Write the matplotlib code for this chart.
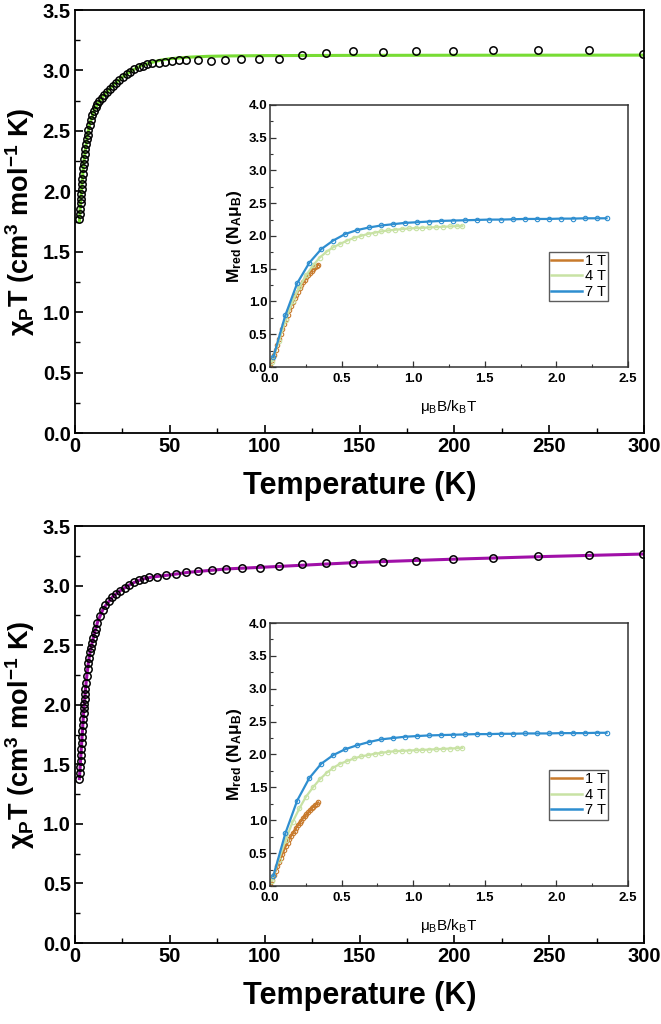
import matplotlib
matplotlib.use('Agg')
import matplotlib.pyplot as plt
from matplotlib.lines import Line2D
from matplotlib.ticker import MultipleLocator

plt.rcParams['font.family'] = ['Liberation Sans', 'DejaVu Sans']
plt.rcParams['font.weight'] = 'bold'
plt.rcParams['axes.labelweight'] = 'bold'
plt.rcParams['mathtext.fontset'] = 'custom'
plt.rcParams['mathtext.rm'] = 'Liberation Sans'
plt.rcParams['mathtext.bf'] = 'Liberation Sans:bold'
plt.rcParams['mathtext.default'] = 'regular'

# ---- chi_P T vs T, upper compound ----
T_top = [2.3, 2.5, 2.7, 2.9, 3.1, 3.3, 3.5, 3.7, 3.9, 4.1, 4.3, 4.6, 4.9, 5.2, 5.5,
         5.8, 6.2, 6.6, 7.1, 7.7, 8.3, 9.0, 9.9, 10.8, 11.8, 12.9, 14.0, 15.3, 16.8,
         18.3, 19.9, 21.5, 23.3, 25.2, 27.2, 29.2, 31.3, 33.5, 35.8, 38.2, 40.8, 44.1,
         47.6, 51.1, 55.0, 58.5, 64.9, 71.5, 79.2, 87.3, 97.2, 107.7, 119.5, 132.4,
         146.7, 162.5, 179.8, 199.4, 220.5, 244.2, 271.1, 299.6]
chi_top = [1.77, 1.81, 1.855, 1.90, 1.94, 1.98, 2.02, 2.06, 2.10, 2.145, 2.19, 2.23,
           2.27, 2.31, 2.35, 2.39, 2.43, 2.47, 2.51, 2.55, 2.59, 2.63, 2.665, 2.695,
           2.72, 2.745, 2.77, 2.795, 2.82, 2.845, 2.87, 2.895, 2.92, 2.945, 2.97, 2.99,
           3.01, 3.03, 3.04, 3.05, 3.06, 3.065, 3.07, 3.08, 3.083, 3.088, 3.088, 3.077,
           3.088, 3.091, 3.096, 3.096, 3.124, 3.143, 3.16, 3.15, 3.16, 3.157, 3.173,
           3.173, 3.173, 3.138]
T_fit_top = [2.3, 2.6, 3.0, 3.5, 4.0, 4.5, 5, 6, 7, 8, 10, 12, 15, 20, 25, 30, 35, 40,
             45, 50, 60, 70, 80, 100, 150, 200, 300]
chi_fit_top = [1.75, 1.84, 1.93, 2.03, 2.13, 2.22, 2.29, 2.41, 2.50, 2.57, 2.665, 2.725,
               2.79, 2.875, 2.945, 3.0, 3.04, 3.065, 3.085, 3.097, 3.11, 3.117, 3.12,
               3.123, 3.125, 3.126, 3.127]

# ---- chi_P T vs T, lower compound ----
T_bot = [2.3, 2.5, 2.7, 2.9, 3.1, 3.3, 3.5, 3.7, 3.9, 4.1, 4.3, 4.5, 4.7, 4.9, 5.1,
         5.3, 5.5, 5.8, 6.2, 6.6, 7.0, 7.4, 7.9, 8.4, 9.0, 9.6, 10.3, 11.0, 11.8, 13.2,
         14.6, 16.0, 17.8, 19.5, 21.6, 23.7, 26.2, 28.7, 31.1, 33.6, 36.4, 39.2, 43.1,
         47.8, 53.1, 58.7, 65.1, 72.1, 79.6, 87.9, 97.5, 107.7, 119.5, 132.3, 146.7,
         162.5, 179.8, 199.4, 220.5, 244.2, 271.1, 299.6]
chi_bot = [1.38, 1.43, 1.48, 1.53, 1.58, 1.63, 1.68, 1.73, 1.78, 1.83, 1.88, 1.93,
           1.97, 2.01, 2.05, 2.09, 2.13, 2.18, 2.24, 2.30, 2.35, 2.395, 2.44, 2.48,
           2.52, 2.56, 2.60, 2.635, 2.69, 2.748, 2.796, 2.838, 2.874, 2.903, 2.93,
           2.958, 2.983, 3.006, 3.028, 3.045, 3.059, 3.07, 3.076, 3.087, 3.095, 3.11,
           3.126, 3.135, 3.14, 3.146, 3.151, 3.165, 3.179, 3.188, 3.193, 3.201, 3.21,
           3.221, 3.235, 3.246, 3.255, 3.265]
T_fit_bot = [2.3, 2.5, 3.0, 3.5, 4.0, 4.5, 5.0, 5.5, 6.0, 7.0, 8.0, 9.0, 10.0, 12.0,
             15.0, 20.0, 25.0, 30.0, 35.0, 40.0, 50.0, 60.0, 80.0, 100.0, 150.0, 200.0,
             250.0, 300.0]
chi_fit_bot = [1.38, 1.43, 1.555, 1.68, 1.805, 1.93, 2.03, 2.13, 2.21, 2.35, 2.45, 2.52,
               2.585, 2.70, 2.81, 2.91, 2.97, 3.018, 3.052, 3.07, 3.09, 3.112, 3.14,
               3.155, 3.195, 3.222, 3.245, 3.265]

# ---- reduced magnetisation (insets) ----
x_7T = [0.023, 0.107, 0.19, 0.274, 0.358, 0.441, 0.525, 0.608, 0.692, 0.776, 0.859,
        0.943, 1.026, 1.110, 1.194, 1.277, 1.361, 1.444, 1.528, 1.612, 1.695, 1.779,
        1.862, 1.946, 2.030, 2.113, 2.197, 2.280, 2.350]
x_4T = [0.013, 0.061, 0.109, 0.157, 0.205, 0.252, 0.300, 0.347, 0.395, 0.443, 0.491,
        0.539, 0.586, 0.634, 0.682, 0.730, 0.778, 0.825, 0.873, 0.921, 0.969, 1.017,
        1.064, 1.112, 1.160, 1.207, 1.255, 1.303, 1.343]
x_1T = [0.003, 0.015, 0.027, 0.039, 0.051, 0.063, 0.075, 0.087, 0.099, 0.111, 0.123,
        0.135, 0.147, 0.159, 0.171, 0.182, 0.194, 0.206, 0.218, 0.230, 0.242, 0.254,
        0.266, 0.278, 0.290, 0.302, 0.314, 0.326, 0.336]

M_top_7T = [0.15, 0.79, 1.28, 1.59, 1.80, 1.93, 2.03, 2.09, 2.13, 2.16, 2.18, 2.20,
            2.21, 2.22, 2.23, 2.235, 2.24, 2.245, 2.25, 2.25, 2.255, 2.26, 2.26, 2.26,
            2.265, 2.265, 2.27, 2.27, 2.27]
M_top_4T = [0.08, 0.40, 0.72, 1.0, 1.22, 1.40, 1.55, 1.67, 1.76, 1.83, 1.88, 1.93,
            1.97, 2.00, 2.03, 2.05, 2.07, 2.085, 2.095, 2.105, 2.115, 2.12, 2.125,
            2.13, 2.135, 2.14, 2.145, 2.15, 2.15]
M_top_1T = [0.02, 0.10, 0.18, 0.26, 0.34, 0.42, 0.50, 0.58, 0.66, 0.73, 0.80, 0.87,
            0.93, 0.99, 1.05, 1.10, 1.15, 1.20, 1.25, 1.29, 1.33, 1.37, 1.41, 1.44,
            1.47, 1.50, 1.52, 1.545, 1.56]

M_bot_7T = [0.15, 0.80, 1.30, 1.64, 1.86, 1.99, 2.08, 2.14, 2.19, 2.23, 2.25, 2.27,
            2.28, 2.29, 2.295, 2.30, 2.305, 2.31, 2.31, 2.315, 2.315, 2.32, 2.32, 2.32,
            2.325, 2.325, 2.325, 2.33, 2.33]
M_bot_4T = [0.08, 0.40, 0.70, 0.97, 1.18, 1.36, 1.50, 1.62, 1.72, 1.80, 1.86, 1.90,
            1.94, 1.97, 1.99, 2.01, 2.025, 2.04, 2.05, 2.055, 2.06, 2.065, 2.07, 2.075,
            2.08, 2.085, 2.09, 2.095, 2.10]
M_bot_1T = [0.02, 0.09, 0.16, 0.23, 0.30, 0.37, 0.43, 0.49, 0.55, 0.61, 0.66, 0.71,
            0.76, 0.80, 0.84, 0.88, 0.92, 0.96, 0.99, 1.03, 1.06, 1.09, 1.12, 1.15,
            1.18, 1.20, 1.23, 1.25, 1.27]

field_labels = ['1 T', '4 T', '7 T']
field_colors = ['#c87a2c', '#c8e2a4', '#2e8ed0']


def draw_main(ax, T, chi, T_fit, chi_fit, fit_color):
    ax.plot(T_fit, chi_fit, '-', color=fit_color, lw=2.2, zorder=2)
    ax.plot(T, chi, 'o', mfc='none', mec='black', ms=5.3, mew=1.1, zorder=3)
    ax.set_xlim(0, 300)
    ax.set_ylim(0, 3.5)
    ax.xaxis.set_major_locator(MultipleLocator(50))
    ax.xaxis.set_minor_locator(MultipleLocator(25))
    ax.yaxis.set_major_locator(MultipleLocator(0.5))
    ax.yaxis.set_minor_locator(MultipleLocator(0.25))
    ax.yaxis.set_major_formatter('{x:.1f}')
    ax.tick_params(which='both', direction='in', top=False, right=False)
    ax.tick_params(which='major', length=6, width=1.2, labelsize=14.5, pad=3)
    ax.tick_params(which='minor', length=3.5, width=1.0)
    for sp in ax.spines.values():
        sp.set_linewidth(1.3)
    ax.set_xlabel('Temperature (K)', fontsize=22, fontweight='bold', labelpad=11)
    ax.set_ylabel('χ$_{P}$T (cm$^{3}$ mol$^{-1}$ K)', fontsize=19.5,
                  fontweight='bold', labelpad=4)


def draw_inset(ax, M1, M4, M7):
    for xs, ms, c in zip([x_1T, x_4T, x_7T], [M1, M4, M7], field_colors):
        ax.plot(xs, ms, '-o', color=c, lw=1.6, ms=3.2, mfc='none', mew=0.8)
    ax.set_xlim(0, 2.5)
    ax.set_ylim(0, 4.0)
    ax.xaxis.set_major_locator(MultipleLocator(0.5))
    ax.xaxis.set_minor_locator(MultipleLocator(0.25))
    ax.yaxis.set_major_locator(MultipleLocator(0.5))
    ax.yaxis.set_minor_locator(MultipleLocator(0.25))
    ax.xaxis.set_major_formatter('{x:.1f}')
    ax.yaxis.set_major_formatter('{x:.1f}')
    ax.tick_params(which='both', direction='in', top=False, right=False,
                   color='#333333')
    ax.tick_params(which='major', length=4, width=0.9, labelsize=9.5)
    ax.tick_params(axis='x', which='major', pad=4)
    ax.tick_params(axis='y', which='major', pad=2)
    ax.tick_params(which='minor', length=2, width=0.8)
    for sp in ax.spines.values():
        sp.set_linewidth(1.1)
        sp.set_color('#333333')
    ax.set_xlabel('μ$_{B}$B/k$_{B}$T', fontsize=11, fontweight='normal', labelpad=10)
    ax.set_ylabel('M$_{red}$ (N$_{A}$μ$_{B}$)', fontsize=12.5, fontweight='bold',
                  labelpad=3)
    handles = [Line2D([], [], color=c, lw=1.8) for c in field_colors]
    leg = ax.legend(handles, field_labels, loc='upper left',
                    bbox_to_anchor=(0.779, 0.44), frameon=True,
                    prop={'size': 10.5, 'weight': 'normal'},
                    fancybox=False, edgecolor='#333333', borderpad=0.15,
                    labelspacing=0.1, handlelength=2.1, handletextpad=0.2,
                    borderaxespad=0)
    leg.get_frame().set_linewidth(1.0)


fig = plt.figure(figsize=(6.61, 10.24), dpi=100)

ax1 = fig.add_axes([0.1135, 0.5771, 0.8608, 0.4131])
draw_main(ax1, T_top, chi_top, T_fit_top, chi_fit_top, '#78dc34')
ins1 = fig.add_axes([0.4085, 0.6416, 0.5416, 0.2559])
draw_inset(ins1, M_top_1T, M_top_4T, M_top_7T)

ax2 = fig.add_axes([0.1135, 0.0791, 0.8608, 0.4072])
draw_main(ax2, T_bot, chi_bot, T_fit_bot, chi_fit_bot, '#a010a8')
ins2 = fig.add_axes([0.4085, 0.1348, 0.5416, 0.2568])
draw_inset(ins2, M_bot_1T, M_bot_4T, M_bot_7T)

fig.savefig('out.png', dpi=100)
